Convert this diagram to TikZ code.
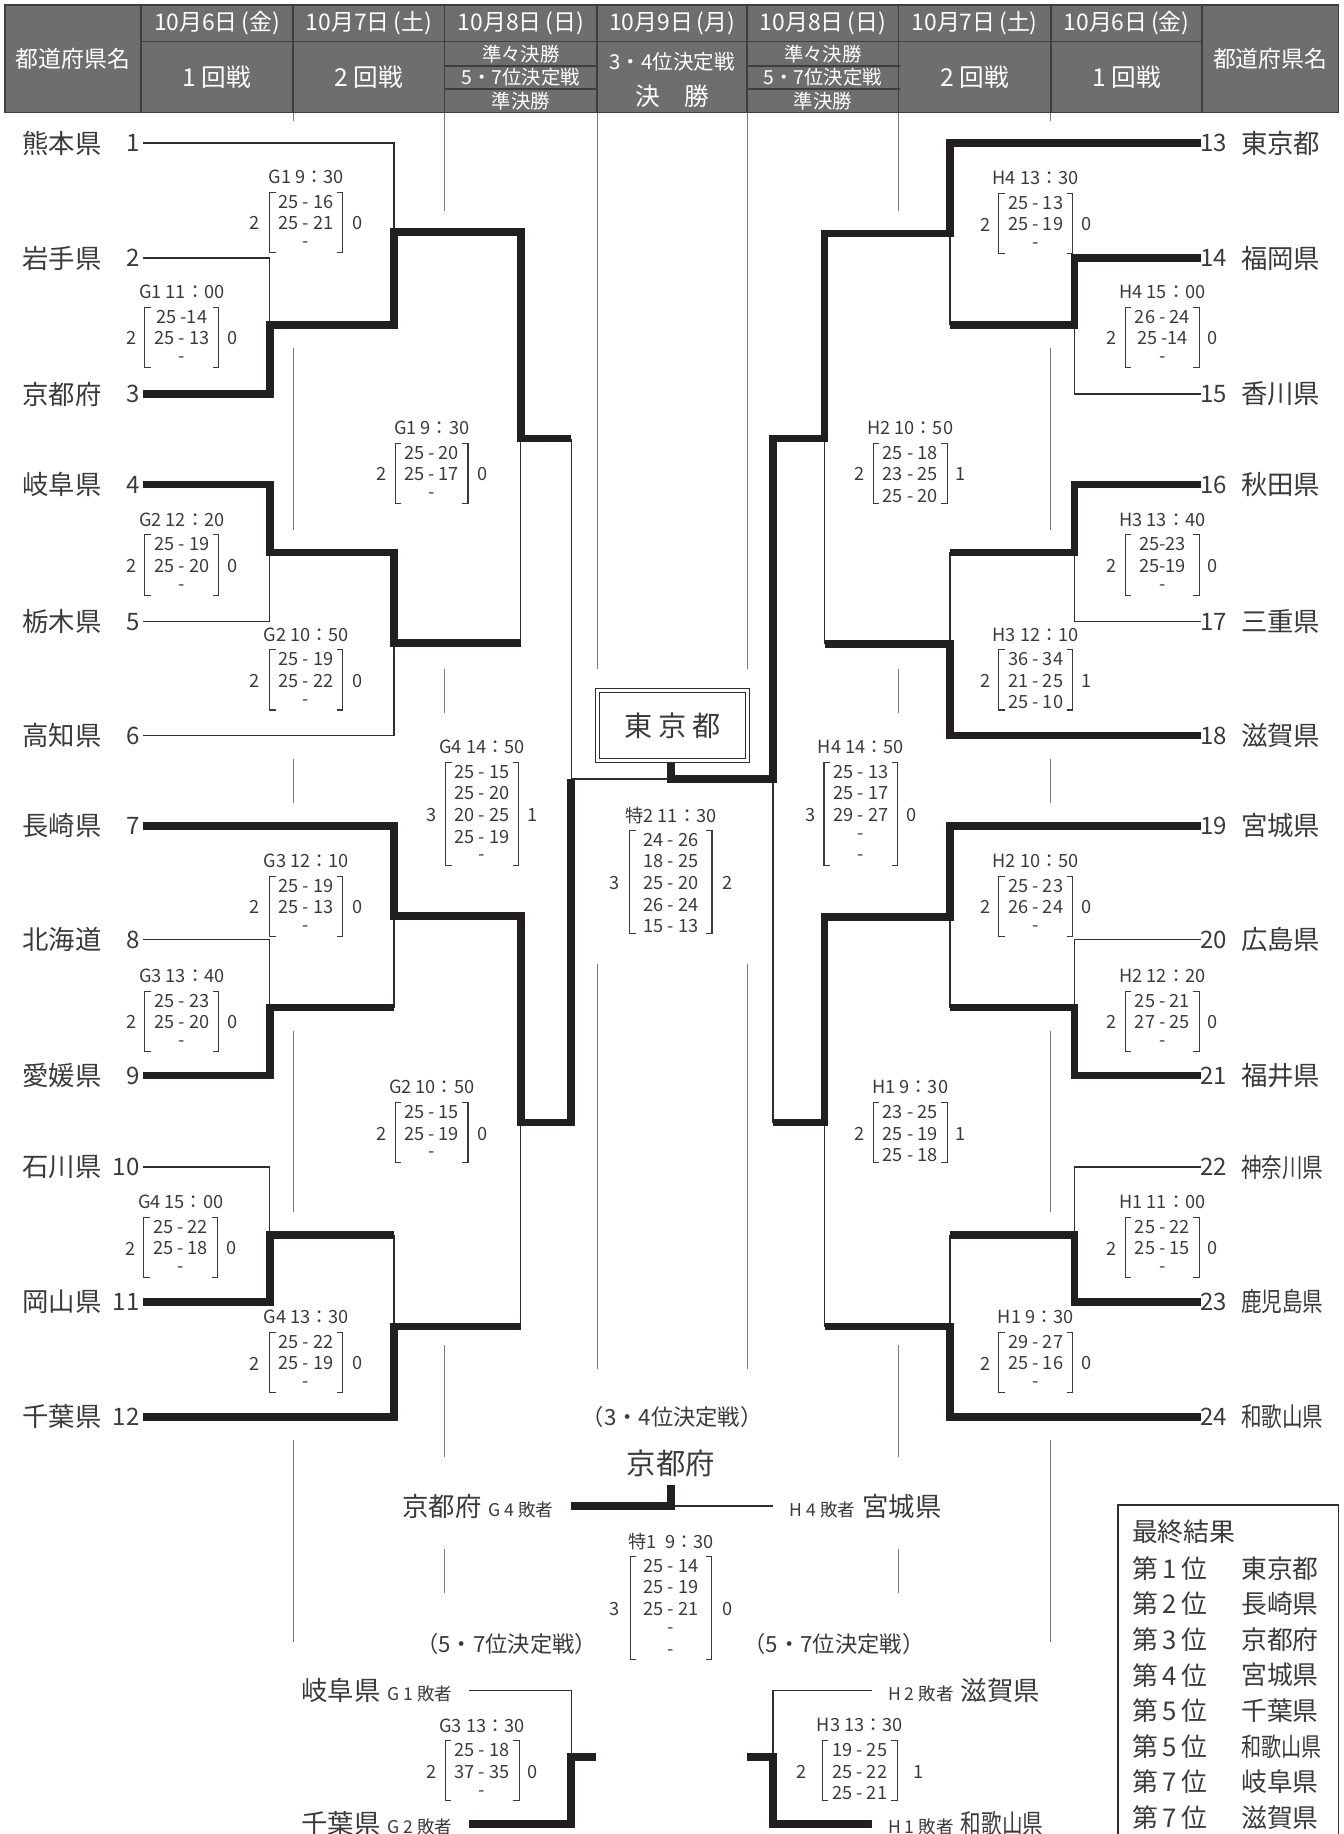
\documentclass[tikz,border=0pt]{standalone}
\usepackage{fontspec}
\setmainfont{Noto Sans CJK JP}
\usepackage{graphicx}
\definecolor{txt}{HTML}{3A3A3A}
\definecolor{ln}{HTML}{2E2E2E}
\definecolor{thk}{HTML}{231F20}
\definecolor{gd}{HTML}{7A7A7A}
\definecolor{hdr}{HTML}{6E6E6E}
\definecolor{hdrline}{HTML}{3E3E3E}
\newcommand\fs[1]{\fontsize{#1}{#1}\selectfont}
\tikzset{
  tn/.style={font=\fs{22.5}, text=txt, inner sep=0pt},
  num/.style={font=\fs{20.5}, text=txt, inner sep=0pt},
  lbl/.style={font=\fs{15.5}, text=txt, inner sep=0pt},
  scr/.style={font=\fs{15.5}, text=txt, inner sep=0pt},
  thinln/.style={line width=1.2pt, draw=ln},
  win/.style={line width=6.5pt, draw=thk, line join=miter},
  guide/.style={line width=0.8pt, draw=gd},
  brk/.style={line width=0.9pt, draw=txt},
  htxt/.style={text=white, inner sep=0pt},
  plain/.style={text=txt, inner sep=0pt},
}
% #1 cx, #2 label y, #3 half width, #4 number offset, #5 label, #6 left, #7 right, #8 lines
\newcommand\scoreblock[8]{%
  \node[lbl] at (#1,#2) {#5};
  \gdef\nl{0}%
  \foreach \s [count=\i] in {#8} {\node[scr] at (#1,#2+21+\i*18.4-18.4) {\s}; \xdef\nl{\i}}
  \pgfmathsetmacro\btop{#2+13}
  \pgfmathsetmacro\bbot{#2+21+(\nl-1)*18.4+6.5}
  \pgfmathsetmacro\bmid{#2+21+(\nl-1)*9.2}
  \draw[brk] (#1-#3+5,\btop) -- (#1-#3,\btop) -- (#1-#3,\bbot) -- (#1-#3+5,\bbot);
  \draw[brk] (#1+#3-5,\btop) -- (#1+#3,\btop) -- (#1+#3,\bbot) -- (#1+#3-5,\bbot);
  \node[scr] at (#1-#4,\bmid) {#6};
  \node[scr] at (#1+#4,\bmid) {#7};
}
\begin{document}
\begin{tikzpicture}[x=1pt,y=-1pt]
\useasboundingbox (0,0) rectangle (1145,1563.6);
% ---------- header ----------
\fill[hdr] (4,4) rectangle (1141,96);
\draw[hdrline, line width=1.4pt] (4,4) rectangle (1141,96);
\draw[hdrline, line width=1.4pt] (120,35.5) -- (1025,35.5);
\foreach \x in {120,250,379,509,637,766,896,1025} \draw[hdrline, line width=1.4pt] (\x,4) -- (\x,96);
\foreach \x in {379,637} \draw[hdrline, line width=1.4pt] (\x,56) -- (\x+130,56) (\x,76) -- (\x+130,76);
\node[htxt, font=\fs{19.5}] (hl) at (62,50) {都道府県名};
\node[htxt, font=\fs{19.5}] (hr) at (1083,50) {都道府県名};
\foreach \x/\d [count=\j] in {185/10月6日\,(金), 314.5/10月7日\,(土), 444/10月8日\,(日), 573/10月9日\,(月), 701.5/10月8日\,(日), 831/10月7日\,(土), 960.5/10月6日\,(金)}
  \node[htxt, font=\fs{19.5}] (hd\j) at (\x,20) {\d};
\node[htxt, font=\fs{21}] (r1l) at (185,66) {1 回戦};
\node[htxt, font=\fs{21}] (r2l) at (314.5,66) {2 回戦};
\node[htxt, font=\fs{21}] (r2r) at (831,66) {2 回戦};
\node[htxt, font=\fs{21}] (r1r) at (960.5,66) {1 回戦};
\foreach \x [count=\j] in {444,701.5} {
  \node[htxt, font=\fs{16.5}] (qa\j) at (\x,46) {準々決勝};
  \node[htxt, font=\fs{16.5}] (qb\j) at (\x,66) {5・7位決定戦};
  \node[htxt, font=\fs{16.5}] (qc\j) at (\x,86) {準決勝};
}
\node[htxt, font=\fs{17.5}] (f34) at (573,53) {3・4位決定戦};
\node[htxt, font=\fs{21}] (ffin) at (573,82) {決　勝};
% ---------- guide lines ----------
\foreach \x in {250,896} \draw[guide] (\x,96)--(\x,103) (\x,297)--(\x,452) (\x,647)--(\x,685) (\x,879)--(\x,1033) (\x,1228)--(\x,1400);
\foreach \x in {379,766} \draw[guide] (\x,96)--(\x,180) (\x,570)--(\x,608) (\x,1147)--(\x,1242) (\x,1321)--(\x,1358);
\foreach \x in {509,637} \draw[guide] (\x,96)--(\x,570) (\x,822)--(\x,1167);
% ---------- team names ----------
\foreach \k/\y/\nm in {1/122/熊本県,2/220/岩手県,3/336/京都府,4/413/岐阜県,5/530/栃木県,6/627/高知県,7/704/長崎県,8/801/北海道,9/917/愛媛県,10/995/石川県,11/1110/岡山県,12/1208/千葉県}{
  \node[tn, anchor=west] (nm\k) at (19,\y) {\nm};
  \node[num, anchor=east] (no\k) at (119,\y) {\k};
}
\foreach \k/\y/\nm/\sx in {13/122/東京都/1,14/220/福岡県/1,15/336/香川県/1,16/413/秋田県/1,17/530/三重県/1,18/627/滋賀県/1,19/704/宮城県/1,20/801/広島県/1,21/917/福井県/1,22/995/神奈川県/0.78,23/1110/鹿児島県/0.78,24/1208/和歌山県/0.78}{
  \node[num, anchor=west] (no\k) at (1023,\y) {\k};
  \node[tn, anchor=west] (nm\k) at (1058,\y) {\scalebox{\sx}[1]{\nm}};
}
% ---------- left bracket ----------
\draw[thinln] (122,122) -- (336,122) -- (336,198);
\draw[thinln] (122,220) -- (230,220) -- (230,277);
\draw[thinln] (122,530) -- (230,530) -- (230,471);
\draw[thinln] (122,627) -- (336,627) -- (336,548);
\draw[thinln] (444,374) -- (444,548);
\draw[thinln] (487,374) -- (487,664) -- (572,664);
\draw[thinln] (122,801) -- (230,801) -- (230,859);
\draw[thinln] (336,781) -- (336,859);
\draw[thinln] (122,995) -- (230,995) -- (230,1053);
\draw[thinln] (336,1053) -- (336,1131);
\draw[thinln] (444,957) -- (444,1131);
\draw[win] (122,336) -- (230,336) -- (230,277) -- (336,277) -- (336,198) -- (444,198) -- (444,374) -- (487,374);
\draw[win] (122,413) -- (230,413) -- (230,471) -- (336,471) -- (336,548) -- (444,548);
\draw[win] (122,704) -- (336,704) -- (336,781) -- (444,781) -- (444,957) -- (487,957) -- (487,664);
\draw[win] (122,917) -- (230,917) -- (230,859) -- (336,859);
\draw[win] (122,1110) -- (230,1110) -- (230,1053) -- (336,1053);
\draw[win] (122,1208) -- (336,1208) -- (336,1131) -- (444,1131);
% ---------- right bracket ----------
\draw[thinln] (810,199) -- (810,277);
\draw[thinln] (1024,336) -- (916,336) -- (916,277);
\draw[thinln] (1024,530) -- (916,530) -- (916,471);
\draw[thinln] (810,471) -- (810,549);
\draw[thinln] (703,374) -- (703,549);
\draw[thinln] (659,664) -- (659,957);
\draw[thinln] (810,782) -- (810,859);
\draw[thinln] (1024,801) -- (916,801) -- (916,859);
\draw[thinln] (1024,995) -- (916,995) -- (916,1053);
\draw[thinln] (810,1053) -- (810,1131);
\draw[thinln] (703,957) -- (703,1131);
\draw[win] (1024,122) -- (810,122) -- (810,199) -- (703,199) -- (703,374) -- (659,374) -- (659,664) -- (572,664) -- (572,650);
\draw[win] (1024,220) -- (916,220) -- (916,277) -- (810,277);
\draw[win] (1024,413) -- (916,413) -- (916,471) -- (810,471);
\draw[win] (1024,627) -- (810,627) -- (810,549) -- (703,549);
\draw[win] (1024,704) -- (810,704) -- (810,782) -- (703,782) -- (703,957) -- (659,957);
\draw[win] (1024,917) -- (916,917) -- (916,859) -- (810,859);
\draw[win] (1024,1110) -- (916,1110) -- (916,1053) -- (810,1053);
\draw[win] (1024,1208) -- (810,1208) -- (810,1131) -- (703,1131);
% ---------- champion box ----------
\draw[ln, line width=1pt, fill=white] (508,587) rectangle (639,650);
\draw[ln, line width=0.8pt] (511.5,590.5) rectangle (635.5,646.5);
\node[plain, font=\fs{24}] (champ) at (573.5,618.5) {東\hspace{5pt}京\hspace{5pt}都};
% ---------- scores left ----------
\scoreblock{261}{151}{31}{44}{G1 9：30}{2}{0}{25 - 16,25 - 21,-}
\scoreblock{155}{249}{31.5}{43}{G1 11：00}{2}{0}{25 -14,25 - 13,-}
\scoreblock{368}{365}{31}{43}{G1 9：30}{2}{0}{25 - 20,25 - 17,-}
\scoreblock{155}{443}{31.5}{43}{G2 12：20}{2}{0}{25 - 19,25 - 20,-}
\scoreblock{261}{541}{31}{44}{G2 10：50}{2}{0}{25 - 19,25 - 22,-}
\scoreblock{411}{637}{31}{43}{G4 14：50}{3}{1}{25 - 15,25 - 20,20 - 25,25 - 19,-}
\scoreblock{261}{734}{31}{44}{G3 12：10}{2}{0}{25 - 19,25 - 13,-}
\scoreblock{155}{832}{31.5}{43}{G3 13：40}{2}{0}{25 - 23,25 - 20,-}
\scoreblock{368}{927}{31}{43}{G2 10：50}{2}{0}{25 - 15,25 - 19,-}
\scoreblock{154}{1025}{31.5}{43}{G4 15：00}{2}{0}{25 - 22,25 - 18,-}
\scoreblock{261}{1123}{31}{44}{G4 13：30}{2}{0}{25 - 22,25 - 19,-}
% ---------- scores right ----------
\scoreblock{883}{152}{31.5}{43}{H4 13：30}{2}{0}{25 - 13,25 - 19,-}
\scoreblock{991}{249}{31.5}{43}{H4 15：00}{2}{0}{26 - 24,25 -14,-}
\scoreblock{776}{365}{31.5}{43}{H2 10：50}{2}{1}{25 - 18,23 - 25,25 - 20}
\scoreblock{991}{443}{31.5}{43}{H3 13：40}{2}{0}{25-23,25-19,-}
\scoreblock{883}{541}{31.5}{43}{H3 12：10}{2}{1}{36 - 34,21 - 25,25 - 10}
\scoreblock{734}{637}{31.5}{43}{H4 14：50}{3}{0}{25 - 13,25 - 17,29 - 27,-,-}
\scoreblock{883}{734}{31.5}{43}{H2 10：50}{2}{0}{25 - 23,26 - 24,-}
\scoreblock{991}{832}{31.5}{43}{H2 12：20}{2}{0}{25 - 21,27 - 25,-}
\scoreblock{776}{927}{31.5}{43}{H1 9：30}{2}{1}{23 - 25,25 - 19,25 - 18}
\scoreblock{991}{1025}{31.5}{43}{H1 11：00}{2}{0}{25 - 22,25 - 15,-}
\scoreblock{883}{1123}{31.5}{43}{H1 9：30}{2}{0}{29 - 27,25 - 16,-}
% ---------- final ----------
\scoreblock{572}{695}{35}{48}{特2 11：30}{3}{2}{24 - 26,18 - 25,25 - 20,26 - 24,15 - 13}
% ---------- 3rd place ----------
\node[plain, font=\fs{19}] (t34) at (573,1208) {（3・4位決定戦）};
\node[plain, font=\fs{25}] (w34) at (572,1248) {京都府};
\node[plain, anchor=east] (p34l) at (472,1284) {{\fs{22.5}京都府}\hspace{6pt}{\fs{15}G 4 敗者}};
\node[plain, anchor=west] (p34r) at (673,1284) {{\fs{15}H 4 敗者}\hspace{6pt}{\fs{22.5}宮城県}};
\draw[thinln] (572,1284) -- (659,1284);
\draw[win] (487,1284) -- (572,1284);
\draw[win] (572,1287) -- (572,1266);
\scoreblock{572}{1314}{34.5}{48}{特1\enspace 9：30}{3}{0}{25 - 14,25 - 19,25 - 21,-,-}
% ---------- 5-7 place ----------
\node[plain, font=\fs{19}] (t57l) at (432,1402) {（5・7位決定戦）};
\node[plain, font=\fs{19}] (t57r) at (711,1402) {（5・7位決定戦）};
\node[plain, anchor=east] (g1l) at (386,1441) {{\fs{22.5}岐阜県}\hspace{6pt}{\fs{15}G 1 敗者}};
\node[plain, anchor=east] (g2l) at (386,1555) {{\fs{22.5}千葉県}\hspace{6pt}{\fs{15}G 2 敗者}};
\node[plain, anchor=west] (h2r) at (757,1441) {{\fs{15}H 2 敗者}\hspace{6pt}{\fs{22.5}滋賀県}};
\node[plain, anchor=west] (h1r) at (757,1555) {{\fs{15}H 1 敗者}\hspace{6pt}{\fs{22.5}\scalebox{0.78}[1]{和歌山県}}};
\draw[thinln] (400,1441) -- (487,1441) -- (487,1498);
\draw[win] (400,1555) -- (487,1555) -- (487,1498) -- (508,1498);
\draw[thinln] (743,1441) -- (659,1441) -- (659,1498);
\draw[win] (743,1555) -- (659,1555) -- (659,1498) -- (637,1498);
\scoreblock{411}{1471}{31.5}{43}{G3 13：30}{2}{0}{25 - 18,37 - 35,-}
\scoreblock{733}{1471}{32}{50}{H3 13：30}{2}{1}{19 - 25,25 - 22,25 - 21}
% ---------- final results ----------
\draw[ln, line width=1.2pt] (953,1564) -- (953,1283) -- (1141,1283) -- (1141,1564);
\node[plain, anchor=west, font=\fs{22}] (res) at (965,1306) {最終結果};
\foreach \r/\nm/\sx [count=\j] in {1/東京都/1,2/長崎県/1,3/京都府/1,4/宮城県/1,5/千葉県/1,5/和歌山県/0.78,7/岐阜県/1,7/滋賀県/1}{
  \node[plain, anchor=west, font=\fs{22}] (rk\j) at (965,1307+30.3*\j) {第\hspace{4pt}\r\hspace{4pt}位};
  \node[plain, anchor=west, font=\fs{22}] (rn\j) at (1058,1307+30.3*\j) {\scalebox{\sx}[1]{\nm}};
}
\end{tikzpicture}
\end{document}
